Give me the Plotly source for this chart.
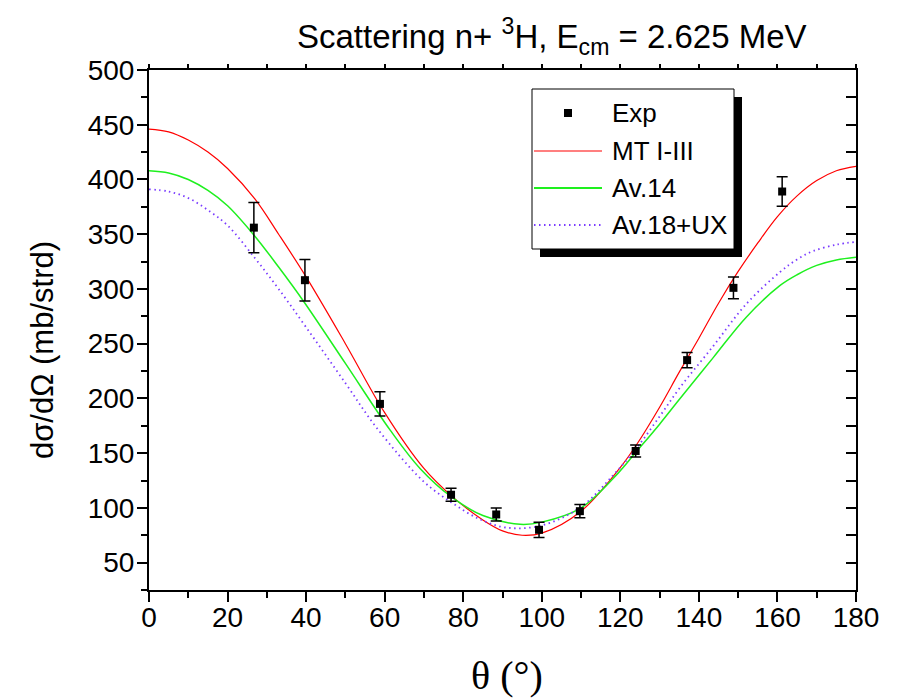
import plotly.graph_objects as go

# Measured n + 3H differential cross sections
exp_theta = [26.7, 39.7, 58.8, 76.9, 88.4, 99.3, 109.7, 123.9, 137.0, 148.8, 161.2]
exp_sigma = [356, 308, 195, 112, 94, 80, 97, 152, 235, 301, 389]
exp_err = [23, 19, 11, 6, 6, 7, 6, 5.5, 7, 10, 13.5]

# MT I-III calculation
mt_theta = [0, 5, 10, 15, 20, 27, 33, 40, 50, 60, 70, 77, 85, 90, 95, 100, 110, 120,
            124, 130, 135, 140, 145, 150, 155, 160, 165, 170, 175, 180]
mt_sigma = [446, 443.5, 436, 425, 410, 382, 350, 311, 250, 187, 136, 111, 89, 79, 75,
            77, 97, 137, 157, 192, 224, 255, 287, 316, 342, 366, 385, 399, 408, 412]

# Av.14 calculation
av14_theta = [0, 5, 10, 15, 20, 27, 33, 39.3, 50, 61.4, 69, 77, 85, 94.5, 100, 110,
              119.5, 124, 130, 135, 143.7, 152, 160.6, 165, 170, 175, 180]
av14_sigma = [408, 406, 400, 390, 376, 348, 320, 289, 232, 171, 136, 110, 93, 85, 87,
              100, 132, 151, 176.5, 199, 237.5, 274, 303, 313, 321.5, 326.5, 329]

# Av.18 + UX calculation
av18_theta = [0, 5, 10, 15, 20, 27, 33, 40, 50, 58, 69.8, 77, 84, 91, 100, 110, 118.2,
              124, 130, 135.2, 143.7, 152.1, 160.6, 165, 169.1, 175, 180]
av18_sigma = [391, 389, 383, 372, 358, 328, 300, 265, 214, 173, 124.5, 105, 90, 82, 84,
              101, 130, 154, 183.5, 210, 248, 286.4, 315.3, 327, 334.6, 340.5, 343]

x_ticks = list(range(0, 181, 20))
y_ticks = list(range(50, 501, 50))

W, H = 899, 699
ML, MR, MT, MB = 149, 43, 70, 109
PW, PH = W - ML - MR, H - MT - MB

SANS = "Liberation Sans, Arial, sans-serif"
SERIF = "Liberation Serif, Times New Roman, serif"


def px(xp):
    return (xp - ML) / PW


def py(yp):
    return (H - MB - yp) / PH


RED = "#ff0000"
GREEN = "#1ef01e"
VIOLET = "#7a3cff"
DOTS = "1.5px,3.5px"

fig = go.Figure()

fig.add_trace(go.Scatter(x=mt_theta, y=mt_sigma, mode="lines", name="MT I-III",
                         line=dict(color=RED, width=1.2, shape="spline", smoothing=1)))
fig.add_trace(go.Scatter(x=av14_theta, y=av14_sigma, mode="lines", name="Av.14",
                         line=dict(color=GREEN, width=1.5, shape="spline", smoothing=1)))
fig.add_trace(go.Scatter(x=av18_theta, y=av18_sigma, mode="lines", name="Av.18+UX",
                         line=dict(color=VIOLET, width=1.8, dash=DOTS,
                                   shape="spline", smoothing=1)))
fig.add_trace(go.Scatter(x=exp_theta, y=exp_sigma, mode="markers", name="Exp",
                         marker=dict(symbol="square", size=8, color="black"),
                         error_y=dict(type="data", array=exp_err, visible=True,
                                      color="black", thickness=1.5, width=5.5)))
# carrier for the mirrored frame axes
fig.add_trace(go.Scatter(x=[None], y=[None], xaxis="x2", yaxis="y2",
                         showlegend=False, hoverinfo="skip"))

axis_font = dict(family=SANS, size=28, color="black")

fig.update_layout(
    width=W, height=H,
    margin=dict(l=ML, r=MR, t=MT, b=MB, pad=0),
    paper_bgcolor="white", plot_bgcolor="white",
    showlegend=False,
    xaxis=dict(range=[0, 180], tickvals=x_ticks, ticks="outside", ticklen=10,
               tickwidth=2, tickcolor="black", showline=True, linewidth=2,
               linecolor="black", showgrid=False, zeroline=False,
               tickfont=axis_font, ticklabelstandoff=-9,
               minor=dict(dtick=10, tick0=0, ticks="outside", ticklen=6,
                          tickwidth=2, tickcolor="black", showgrid=False)),
    yaxis=dict(range=[25, 500], tickvals=y_ticks, ticks="outside", ticklen=10,
               tickwidth=2, tickcolor="black", showline=True, linewidth=2,
               linecolor="black", showgrid=False, zeroline=False,
               tickfont=axis_font, ticklabelstandoff=-3,
               minor=dict(dtick=25, tick0=0, ticks="outside", ticklen=6,
                          tickwidth=2, tickcolor="black", showgrid=False)),
    xaxis2=dict(range=[0, 180], overlaying="x", side="top", anchor="y",
                dtick=10, tick0=0, ticks="outside", ticklen=4, tickwidth=2,
                tickcolor="black", showline=True, linewidth=2, linecolor="black",
                showticklabels=False, showgrid=False, zeroline=False),
    yaxis2=dict(range=[25, 500], overlaying="y", side="right", anchor="x",
                dtick=25, tick0=0, ticks="inside", ticklen=10, tickwidth=2,
                tickcolor="black", showline=True, linewidth=2, linecolor="black",
                showticklabels=False, showgrid=False, zeroline=False),
)

annotations = [
    dict(text="Scattering n+ <sup>3</sup>H, E<sub>cm</sub> = 2.625 MeV",
         x=px(552), y=py(36), xref="paper", yref="paper", showarrow=False,
         xanchor="center", yanchor="middle",
         font=dict(family=SANS, size=33, color="black")),
    dict(text="dσ/dΩ (mb/strd)", x=px(42), y=py(350), xref="paper", yref="paper",
         showarrow=False, textangle=-90, xanchor="center", yanchor="middle",
         font=dict(family=SANS, size=31, color="black")),
    dict(text="θ (°)", x=px(507), y=py(675), xref="paper", yref="paper",
         showarrow=False, xanchor="center", yanchor="middle",
         font=dict(family=SERIF, size=40, color="black")),
]

# Legend panel with drop shadow
shapes = [
    dict(type="rect", xref="paper", yref="paper", x0=px(540), x1=px(742),
         y0=py(257), y1=py(97), fillcolor="black", line=dict(width=0), layer="above"),
    dict(type="rect", xref="paper", yref="paper", x0=px(532), x1=px(734),
         y0=py(249), y1=py(89), fillcolor="white",
         line=dict(color="black", width=1), layer="above"),
    dict(type="rect", xref="paper", yref="paper", x0=px(564), x1=px(572),
         y0=py(117), y1=py(109), fillcolor="black", line=dict(width=0), layer="above"),
]
legend_rows = [
    ("Exp", 113, None),
    ("MT I-III", 151, dict(color=RED, width=1.2)),
    ("Av.14", 188, dict(color=GREEN, width=2)),
    ("Av.18+UX", 225, dict(color=VIOLET, width=1.8, dash=DOTS)),
]
for label, row_y, line in legend_rows:
    if line is not None:
        shapes.append(dict(type="line", xref="paper", yref="paper", x0=px(534),
                           x1=px(602), y0=py(row_y), y1=py(row_y), line=line,
                           layer="above"))
    annotations.append(dict(text=label, x=px(610), y=py(row_y), xref="paper",
                            yref="paper", showarrow=False, xanchor="left",
                            yanchor="middle",
                            font=dict(family=SANS, size=26, color="black")))

fig.update_layout(annotations=annotations, shapes=shapes)

fig.write_html("out.html")
